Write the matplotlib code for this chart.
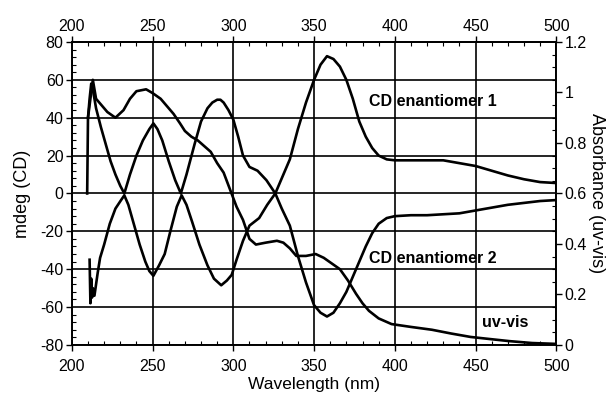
"""
CD / uv-vis spectra of the two enantiomers.
"""

import matplotlib
matplotlib.use("Agg")
import matplotlib.pyplot as plt
from matplotlib.ticker import MultipleLocator

plt.rcParams["font.family"] = ["Liberation Sans", "DejaVu Sans"]
plt.rcParams["axes.unicode_minus"] = False

# CD enantiomer 1 (mdeg)
wl_en1 = [211, 211.5, 212, 212.5, 213, 214, 215, 216, 217.5, 220, 223.5, 227,
          230.5, 232.5, 235, 239, 242, 245.5, 248, 250.5, 254, 257.5, 261,
          265, 268, 271, 274.5, 279, 284, 288, 292.5, 296, 299, 302, 306,
          310, 316, 321, 326, 330, 335, 340, 345, 350, 354, 358, 362, 366,
          370, 374, 378, 382, 386, 390, 395, 400, 410, 420, 430, 440, 450,
          460, 470, 480, 490, 500]
cd_en1 = [-35, -58, -45, -55, -50, -54, -48, -42, -34, -27, -16, -8,
          -3.5, -1, -6, -18, -27, -36, -41, -43.5, -38, -32, -20,
          -7, -1, -6, -15, -27, -38, -45, -48.5, -46, -43, -35, -25,
          -17, -13, -6, 0, 8, 18, 34, 48, 60, 68, 72.5, 71, 67,
          60, 50, 38, 30, 24, 20, 18, 17.5, 17.5, 17.5, 17.5, 16, 14.5,
          12, 9.5, 7.5, 6, 5.5]

# CD enantiomer 2 (mdeg)
wl_en2 = [210, 211, 212, 213, 215, 218, 221, 224, 227, 230, 232.5, 236,
          240, 244, 248, 250.5, 253, 256, 260, 264, 267.5, 271, 276, 280,
          284, 287, 290, 292, 294, 297, 300, 303, 306, 310, 315, 320.5, 326,
          330, 335, 340, 345, 350, 354, 358, 362, 366, 370, 374, 378, 382,
          386, 390, 395, 400, 410, 420, 430, 440, 450, 460, 470, 480, 490,
          500]
cd_en2 = [40, 50, 58, 55, 45, 35, 26, 17, 10, 4, 0, 10,
          20, 28, 34, 37, 34, 28, 17, 7, 0, 10, 26, 38,
          45, 48, 49.5, 49.5, 48, 44, 39, 30, 20, 14, 12, 7, 0,
          -8, -17, -33, -47, -59, -63, -65, -63, -58, -52, -44, -36, -28,
          -21, -16, -13, -12, -11.5, -11.5, -11, -10.5, -9, -7.5, -6, -5, -4,
          -3.5]

# uv-vis absorbance
wl_uv = [209.5, 210, 213, 215, 218, 222, 227, 232, 236, 240, 246, 250, 255,
         259, 263, 267, 270, 274, 278, 282, 286, 290, 294, 298, 302, 306,
         310, 314, 320, 327, 331, 335, 339, 345, 351, 356, 361, 366, 371,
         376, 380, 384, 390, 398, 410, 423, 435, 447, 460, 471, 485, 500]
abs_uv = [0.60, 0.90, 1.05, 0.975, 0.9525, 0.9225, 0.90, 0.93, 0.975, 1.005,
          1.0125, 0.9975, 0.975, 0.945, 0.915, 0.8775, 0.8475, 0.825, 0.81,
          0.7875, 0.765, 0.72, 0.6825, 0.615, 0.5475, 0.495, 0.42, 0.3975,
          0.405, 0.4125, 0.405, 0.3825, 0.3525, 0.3525, 0.36, 0.345, 0.3225,
          0.30, 0.255, 0.2025, 0.165, 0.135, 0.105, 0.0825, 0.07125, 0.06,
          0.045, 0.0315, 0.0225, 0.015, 0.0075, 0.004]

wl_ticks = [200, 250, 300, 350, 400, 450, 500]
abs_ticks = [0, 0.2, 0.4, 0.6, 0.8, 1.0, 1.2]
abs_labels = ["0", "0.2", "0.4", "0.6", "0.8", "1", "1.2"]

fig, ax = plt.subplots(figsize=(6.14, 3.96), dpi=100)
fig.subplots_adjust(left=0.117, right=0.906, top=0.894, bottom=0.129)

ax.plot(wl_en1, cd_en1, color="black", lw=1.9)
ax.plot(wl_en2, cd_en2, color="black", lw=1.9)

ax.set_xlim(200, 500)
ax.set_ylim(-80, 80)
ax.set_xticks(wl_ticks)
ax.xaxis.set_minor_locator(MultipleLocator(10))
ax.yaxis.set_major_locator(MultipleLocator(20))
ax.yaxis.set_minor_locator(MultipleLocator(4))
ax.grid(True, which="major", color="black", lw=1.2)
ax.set_axisbelow(True)

ax.tick_params(which="major", direction="out", length=4, width=1,
               labelsize=11.5, pad=2, top=False)
ax.tick_params(axis="x", which="major", pad=6)
ax.tick_params(which="minor", direction="in", length=3, width=0.8, top=False)

ax.set_xlabel("Wavelength (nm)", fontsize=12.5, labelpad=2)
ax.set_ylabel("mdeg (CD)", fontsize=13, labelpad=7)

# wavelength scale repeated along the top
top = ax.secondary_xaxis("top")
top.set_xticks(wl_ticks)
top.xaxis.set_minor_locator(MultipleLocator(10))
top.tick_params(which="major", direction="out", length=4, width=1,
                labelsize=11.5, pad=2)
top.tick_params(which="minor", direction="in", length=3, width=0.8)
top.spines["top"].set_linewidth(1.2)

ax2 = ax.twinx()
ax2.plot(wl_uv, abs_uv, color="black", lw=1.9)
ax2.set_ylim(0, 1.2)
ax2.yaxis.set_minor_locator(MultipleLocator(0.05))
ax2.set_yticks(abs_ticks)
ax2.set_yticklabels(abs_labels)
ax2.tick_params(which="major", direction="out", length=4, width=1,
                labelsize=11.5, pad=2)
ax2.tick_params(which="minor", direction="in", length=3, width=0.8)
ax2.set_ylabel("Absorbance (uv-vis)", fontsize=13, rotation=270,
               labelpad=13)

for s in list(ax.spines.values()) + list(ax2.spines.values()):
    s.set_linewidth(1.2)

ax.text(384, 48.5, "CD enantiomer 1", fontsize=11.5, fontweight="bold",
        va="center", ha="left")
ax.text(384, -34.5, "CD enantiomer 2", fontsize=11.5, fontweight="bold",
        va="center", ha="left")
ax.text(454, -68, "uv-vis", fontsize=11.5, fontweight="bold",
        va="center", ha="left")

fig.savefig("out.png", dpi=100)
